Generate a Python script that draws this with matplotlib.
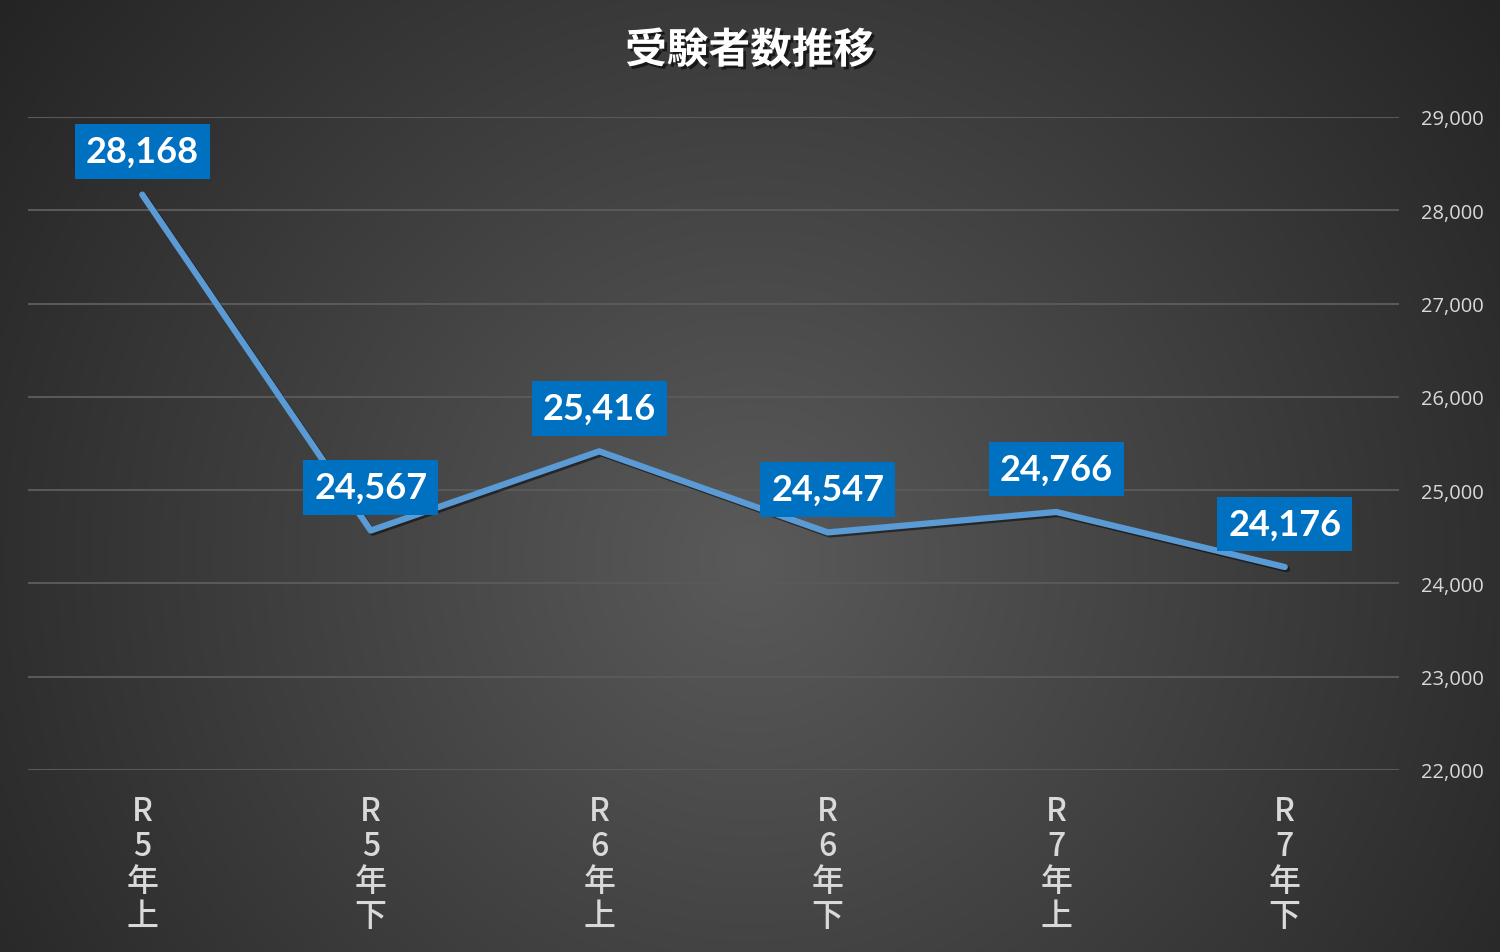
import numpy as np
import matplotlib
matplotlib.use("Agg")
import matplotlib.pyplot as plt
import matplotlib.patheffects as pe
from matplotlib.ticker import FuncFormatter

categories = ["R\n5\n年\n上", "R\n5\n年\n下", "R\n6\n年\n上", "R\n6\n年\n下", "R\n7\n年\n上", "R\n7\n年\n下"]
values = [28168, 24567, 25416, 24547, 24766, 24176]
y_ticks = [22000, 23000, 24000, 25000, 26000, 27000, 28000, 29000]
title = "受験者数推移"

plt.rcParams['font.family'] = ['Noto Sans CJK JP', 'DejaVu Sans']

fig = plt.figure(figsize=(15, 9.53), dpi=100)

# radial gradient background
bg = fig.add_axes([0, 0, 1, 1], zorder=0)
h, w = 953, 1500
yy, xx = np.mgrid[0:h, 0:w]
cx, cy = 750, 560
r = np.sqrt(((xx - cx) / 1.0) ** 2 + ((yy - cy) / 1.0) ** 2)
r = r / r.max()
c_in = np.array([0x5a, 0x5a, 0x5a]) / 255
c_out = np.array([0x24, 0x24, 0x24]) / 255
t = np.clip(r, 0, 1)[..., None]
img = c_in * (1 - t) + c_out * t
bg.imshow(img, aspect='auto', extent=[0, 1, 0, 1], origin='upper')
bg.axis('off')

ax = fig.add_axes([28 / 1500, 182 / 953, 1371 / 1500, 653 / 953], zorder=1)
ax.patch.set_alpha(0)
x = np.arange(len(categories))
ax.plot(x, values, color='#5b9bd5', lw=4.5, solid_capstyle='round', solid_joinstyle='round',
        path_effects=[pe.SimpleLineShadow(offset=(1.5, -1.5), shadow_color='black', alpha=0.5), pe.Normal()],
        zorder=3)
ax.set_xlim(-0.5, len(categories) - 0.5)
ax.set_ylim(22000, 29000)
ax.set_yticks(y_ticks)
ax.yaxis.set_major_formatter(FuncFormatter(lambda v, p: f"{int(v):,}"))
ax.yaxis.tick_right()
ax.tick_params(axis='y', length=0, pad=16, labelsize=14.5, labelcolor='#d9d9d9')
ax.set_xticks(x)
ax.set_xticklabels(categories, fontsize=23, color='#d9d9d9', linespacing=1.12, fontweight='medium')
ax.tick_params(axis='x', length=0, pad=18)
for lab in ax.get_yticklabels():
    lab.set_family(['Open Sans', 'DejaVu Sans'])
ax.grid(axis='y', color='#595959', lw=1.5)
ax.set_axisbelow(True)
for s in ax.spines.values():
    s.set_visible(False)

for xi, v in zip(x, values):
    ax.annotate(f"{v:,}", (xi, v), xytext=(0, 31), textcoords='offset points',
                ha='center', va='center', fontsize=26, fontweight='bold', color='white',
                family=['Lato', 'DejaVu Sans'],
                bbox=dict(boxstyle='square,pad=0.3', fc='#0070c0', ec='none'), zorder=5)

fig.text(0.5, 1 - 52 / 953, title, ha='center', va='center', fontsize=30, fontweight='bold',
         color='white', path_effects=[pe.withSimplePatchShadow(offset=(2, -2), shadow_rgbFace='black', alpha=0.6)])

fig.savefig('out.png', dpi=100)
